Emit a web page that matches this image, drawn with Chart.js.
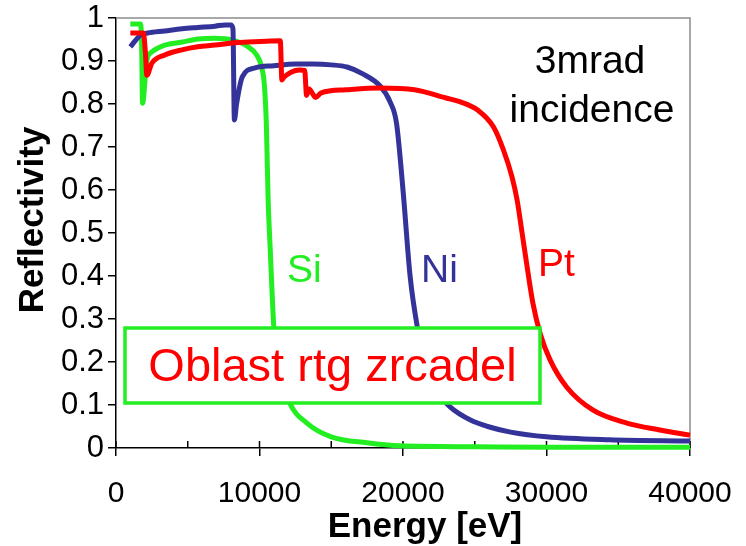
<!DOCTYPE html>
<html>
<head>
<meta charset="utf-8">
<script src="https://cdn.jsdelivr.net/npm/chart.js@4.4.1/dist/chart.umd.min.js"></script>
<style>
    body { margin: 0; background: #fff; }
    #wrap { width: 746px; height: 546px; position: relative; }
</style>
</head>
<body>
<div id="wrap"><canvas id="chart"></canvas></div>
<script>
// energy [eV] / reflectivity
const ptEnergy = [1000, 1900, 2050, 2150, 2500, 3400, 4600, 5700, 6900, 8100, 9200, 10500, 11450, 11560, 11700, 12200, 12800, 13150, 13280, 13450, 13700, 13900, 14300, 16000, 18400, 20800, 23000, 24000, 25200, 26300, 27000, 27600, 27950, 28300, 28650, 29050, 29550, 30250, 31400, 33250, 35600, 37900, 40000]
const ptRefl = [0.965, 0.965, 0.92, 0.867, 0.895, 0.914, 0.926, 0.933, 0.937, 0.942, 0.944, 0.946, 0.947, 0.856, 0.862, 0.874, 0.879, 0.878, 0.82, 0.835, 0.824, 0.815, 0.826, 0.833, 0.837, 0.833, 0.814, 0.805, 0.786, 0.747, 0.693, 0.63, 0.577, 0.5, 0.421, 0.337, 0.267, 0.205, 0.142, 0.088, 0.058, 0.042, 0.030]

const niEnergy = [1000, 1700, 2200, 3400, 4600, 5700, 6900, 7600, 8000, 8150, 8250, 8400, 8800, 9700, 11000, 12500, 13700, 15000, 16100, 17200, 18400, 19100, 19550, 20000, 20500, 21000, 21600, 22400, 23300, 24700, 25900, 27500, 30000, 34400, 40000]
const niRefl = [0.933, 0.96, 0.965, 0.970, 0.975, 0.978, 0.981, 0.984, 0.984, 0.975, 0.763, 0.80, 0.863, 0.884, 0.889, 0.893, 0.893, 0.891, 0.886, 0.870, 0.842, 0.805, 0.755, 0.600, 0.398, 0.281, 0.19, 0.13, 0.095, 0.065, 0.05, 0.037, 0.026, 0.019, 0.016]

const siEnergy = [1000, 1700, 1780, 1850, 2150, 2500, 3400, 4600, 5700, 6900, 8100, 9200, 9800, 10150, 10350, 10480, 10600, 10750, 10900, 11000, 11300, 12100, 13300, 15000, 17500, 19800, 25000, 30000, 40000]
const siRefl = [0.986, 0.986, 0.95, 0.802, 0.902, 0.921, 0.937, 0.944, 0.951, 0.953, 0.949, 0.933, 0.914, 0.886, 0.84, 0.75, 0.58, 0.46, 0.344, 0.28, 0.19, 0.105, 0.058, 0.026, 0.012, 0.005, 0.003, 0.002, 0.002]

const xTicks = [0, 10000, 20000, 30000, 40000]
const xMinorTicks = [5000, 15000, 25000, 35000]
const yTicks = [0, 0.1, 0.2, 0.3, 0.4, 0.5, 0.6, 0.7, 0.8, 0.9, 1]

const RED = '#ff0000'
const BLUE = '#333399'
const GREEN = '#22ee22'
const FONT = '"Liberation Sans", Arial, sans-serif'

function toPoints(xs, ys) {
    return xs.map((x, i) => ({x: x, y: ys[i]}))
}

function series(label, xs, ys, color) {
    return {
        label: label,
        data: toPoints(xs, ys),
        borderColor: color,
        backgroundColor: color,
        borderWidth: 5,
        pointRadius: 0,
        cubicInterpolationMode: 'monotone',
        clip: 8
    }
}

const decorations = {
    id: 'decorations',
    beforeDatasetsDraw(chart) {
        const ctx = chart.ctx
        const a = chart.chartArea
        const xs = chart.scales.x
        ctx.save()
        // frame top + right
        ctx.strokeStyle = '#8c8c8c'
        ctx.lineWidth = 1.5
        ctx.beginPath()
        ctx.moveTo(a.left, a.top)
        ctx.lineTo(a.right, a.top)
        ctx.lineTo(a.right, a.bottom)
        ctx.stroke()
        // inner ticks on x axis
        ctx.strokeStyle = '#000'
        ctx.beginPath()
        xTicks.concat(xMinorTicks).forEach(v => {
            const px = xs.getPixelForValue(v)
            ctx.moveTo(px, a.bottom)
            ctx.lineTo(px, a.bottom - 7)
        })
        ctx.stroke()
        ctx.restore()
    },
    afterDraw(chart) {
        const ctx = chart.ctx
        ctx.save()

        // box with label
        const bx = 125, by = 328, bw = 415, bh = 75
        ctx.fillStyle = '#fff'
        ctx.fillRect(bx, by, bw, bh)
        ctx.strokeStyle = GREEN
        ctx.lineWidth = 3.5
        ctx.strokeRect(bx, by, bw, bh)
        ctx.fillStyle = RED
        ctx.font = '47px ' + FONT
        ctx.textAlign = 'center'
        ctx.textBaseline = 'alphabetic'
        ctx.fillText('Oblast rtg zrcadel', bx + bw / 2, 381)

        // curve names
        ctx.font = '39px ' + FONT
        ctx.textAlign = 'left'
        ctx.fillStyle = GREEN
        ctx.fillText('Si', 287, 282)
        ctx.fillStyle = BLUE
        ctx.fillText('Ni', 421, 282)
        ctx.fillStyle = RED
        ctx.fillText('Pt', 538, 276)

        ctx.fillStyle = '#000'
        ctx.textAlign = 'center'
        ctx.fillText('3mrad', 590, 73)
        ctx.fillText('incidence', 592, 122)

        // axis titles
        ctx.font = 'bold 35px ' + FONT
        ctx.fillText('Energy [eV]', 425, 537)
        ctx.translate(43, 220)
        ctx.rotate(-Math.PI / 2)
        ctx.fillText('Reflectivity', 0, 0)
        ctx.restore()
    }
}

const chart = new Chart(document.getElementById('chart'), {
    type: 'line',
    data: {
        datasets: [
            series('Pt', ptEnergy, ptRefl, RED),
            series('Ni', niEnergy, niRefl, BLUE),
            series('Si', siEnergy, siRefl, GREEN)
        ]
    },
    options: {
        responsive: true,
        maintainAspectRatio: false,
        animation: false,
        events: [],
        layout: {padding: {top: 18, right: 56, left: 0, bottom: 0}},
        plugins: {
            legend: {display: false},
            tooltip: {enabled: false}
        },
        scales: {
            x: {
                type: 'linear',
                min: 0,
                max: 40000,
                afterBuildTicks: s => { s.ticks = xTicks.map(v => ({value: v})) },
                afterFit: s => { s.height = 98; s.paddingLeft = 0; s.paddingRight = 0 },
                ticks: {
                    color: '#000',
                    font: {family: FONT, size: 30},
                    padding: 20,
                    maxRotation: 0,
                    callback: v => String(v)
                },
                grid: {drawOnChartArea: false, tickLength: 8, color: '#000', lineWidth: 1.5},
                border: {color: '#000', width: 1.5}
            },
            y: {
                type: 'linear',
                min: 0,
                max: 1,
                afterBuildTicks: s => { s.ticks = yTicks.map(v => ({value: v})) },
                afterFit: s => { s.width = 116; s.paddingTop = 0; s.paddingBottom = 0 },
                ticks: {
                    color: '#000',
                    font: {family: FONT, size: 31},
                    padding: 4,
                    callback: v => String(Math.round(v * 10) / 10)
                },
                grid: {drawOnChartArea: false, tickLength: 8, color: '#000', lineWidth: 1.5},
                border: {color: '#000', width: 1.5}
            }
        }
    },
    plugins: [decorations]
})
</script>
</body>
</html>
